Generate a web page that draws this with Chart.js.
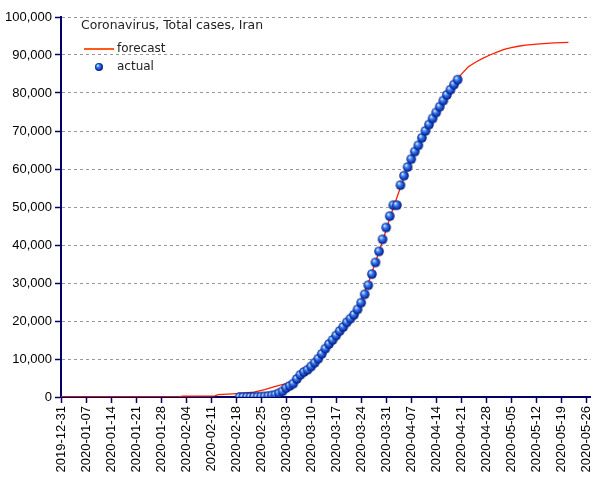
<!DOCTYPE html>
<html>
<head>
<meta charset="utf-8">
<script src="https://cdn.jsdelivr.net/npm/chart.js@4.4.1/dist/chart.umd.min.js"></script>
<style>
  html, body { margin: 0; padding: 0; background: #fff; }
  #wrap { width: 605px; height: 480px; position: relative; }
</style>
</head>
<body>
<div id="wrap"><canvas id="chart" width="605" height="480"></canvas></div>
<script>
// day index 0 = 2019-12-31
const tickLabels = ['2019-12-31', '2020-01-07', '2020-01-14', '2020-01-21', '2020-01-28',
    '2020-02-04', '2020-02-11', '2020-02-18', '2020-02-25', '2020-03-03', '2020-03-10',
    '2020-03-17', '2020-03-24', '2020-03-31', '2020-04-07', '2020-04-14', '2020-04-21',
    '2020-04-28', '2020-05-05', '2020-05-12', '2020-05-19', '2020-05-26'];

const yTicks = [0, 10000, 20000, 30000, 40000, 50000, 60000, 70000, 80000, 90000, 100000];

// actual: consecutive days starting 2020-02-19 (day 50)
const actualStartDay = 50;
const actualValues = [2, 5, 18, 28, 43, 61, 95, 139, 245, 388, 593,
    978, 1501, 2336, 2922, 3513, 4747, 5823, 6566, 7161, 8042,
    9000, 10075, 11364, 12729, 13938, 14991, 16169, 17361, 18407, 19644,
    20610, 21638, 23049, 24811, 27017, 29406, 32332, 35408, 38309, 41495, 44605,
    47593, 50468, 50468, 55743, 58226, 60500, 62589, 64586, 66220, 68192,
    70029, 71686, 73303, 74877, 76389, 77995, 79494, 80868, 82211, 83505];

const forecastDays = [0, 33, 34, 43, 44, 48, 51, 54, 57, 60, 63, 66, 69, 72, 75, 78,
    81, 84, 86, 88, 90, 92, 94, 96, 98, 100, 102, 104, 106, 108, 110, 112, 114,
    116, 118, 120, 122, 124, 126, 128, 130, 134, 138, 142];
const forecastValues = [0, 0, 250, 300, 600, 800, 1000, 1300, 1950, 2800, 3500, 4700, 6900,
    9700, 12900, 16500, 20300, 25500, 30000, 35500, 41000, 47000, 52500, 57800,
    62500, 66600, 70300, 73600, 76700, 79700, 82400, 84900, 86900,
    88100, 89100, 90000, 90750, 91450, 91950, 92300, 92600, 92950, 93200, 93300];

const titleText = 'Coronavirus, Total cases, Iran';
const legendLabels = ['forecast', 'actual'];

function makeSphere(r) {
    const s = Math.ceil(r * 2 + 2);
    const c = document.createElement('canvas');
    c.width = s; c.height = s;
    const g = c.getContext('2d');
    const cx = s / 2, cy = s / 2;
    const grad = g.createRadialGradient(cx - r * 0.35, cy - r * 0.4, r * 0.1, cx, cy, r);
    grad.addColorStop(0, '#c8e6ff');
    grad.addColorStop(0.35, '#3a7df0');
    grad.addColorStop(0.8, '#0b32b0');
    grad.addColorStop(1, '#061866');
    g.fillStyle = grad;
    g.beginPath();
    g.arc(cx, cy, r, 0, Math.PI * 2);
    g.fill();
    return c;
}

const sphere = makeSphere(4.8);
const legendSphere = makeSphere(4);

const navy = '#000066';

const insideLegend = {
    id: 'insideLegend',
    afterDraw(chart) {
        const ctx = chart.ctx;
        ctx.save();
        ctx.font = '12.4px "DejaVu Sans"';
        ctx.fillStyle = '#222';
        ctx.textBaseline = 'middle';
        ctx.fillText(titleText, 81, 26);
        ctx.font = '12px "DejaVu Sans"';
        ctx.strokeStyle = '#ff5a1a';
        ctx.lineWidth = 2;
        ctx.beginPath();
        ctx.moveTo(84, 49);
        ctx.lineTo(114, 49);
        ctx.stroke();
        ctx.fillText(legendLabels[0], 117, 49);
        ctx.drawImage(legendSphere, 99 - legendSphere.width / 2, 67 - legendSphere.height / 2);
        ctx.fillText(legendLabels[1], 117, 67);
        ctx.restore();
    }
};

const forecastData = forecastDays.map((d, i) => ({ x: d, y: forecastValues[i] }));
const actualData = actualValues.map((v, i) => ({ x: actualStartDay + i, y: v }));

new Chart(document.getElementById('chart').getContext('2d'), {
    type: 'line',
    data: {
        datasets: [{
            label: legendLabels[0],
            data: forecastData,
            borderColor: '#ff1e00',
            borderWidth: 1.3,
            pointRadius: 0,
            tension: 0,
            fill: false,
            order: 2
        }, {
            label: legendLabels[1],
            data: actualData,
            showLine: false,
            pointStyle: sphere,
            pointRadius: 4.8,
            order: 1
        }]
    },
    options: {
        responsive: false,
        animation: false,
        devicePixelRatio: 1,
        layout: { padding: { top: 17, right: 14, left: 0, bottom: 0 } },
        plugins: {
            legend: { display: false },
            tooltip: { enabled: false }
        },
        scales: {
            x: {
                type: 'linear',
                min: 0,
                max: 148.2,
                afterBuildTicks: (scale) => {
                    scale.ticks = tickLabels.map((l, i) => ({ value: i * 7 }));
                },
                afterFit: (scale) => { scale.height = 83; },
                ticks: {
                    autoSkip: false,
                    minRotation: 90,
                    maxRotation: 90,
                    padding: 3,
                    color: '#000',
                    font: { family: '"Liberation Sans", Arial', size: 13 },
                    callback: (v, i) => tickLabels[i]
                },
                grid: {
                    drawOnChartArea: false,
                    drawTicks: true,
                    tickLength: 6,
                    tickColor: navy,
                    tickWidth: 1.5
                },
                border: { display: true, color: navy, width: 2 }
            },
            y: {
                min: 0,
                max: 100000,
                afterBuildTicks: (scale) => {
                    scale.ticks = yTicks.map(v => ({ value: v }));
                },
                afterFit: (scale) => { scale.width = 61; },
                ticks: {
                    autoSkip: false,
                    padding: 3,
                    color: '#000',
                    font: { family: '"Liberation Sans", Arial', size: 13 },
                    callback: (v) => v.toLocaleString('en-US')
                },
                grid: {
                    color: '#999',
                    lineWidth: 1,
                    tickLength: 6,
                    tickColor: navy,
                    tickWidth: 1.5,
                    tickBorderDash: []
                },
                border: { display: true, color: navy, width: 2, dash: [3, 3] }
            }
        }
    },
    plugins: [insideLegend]
});
</script>
</body>
</html>
